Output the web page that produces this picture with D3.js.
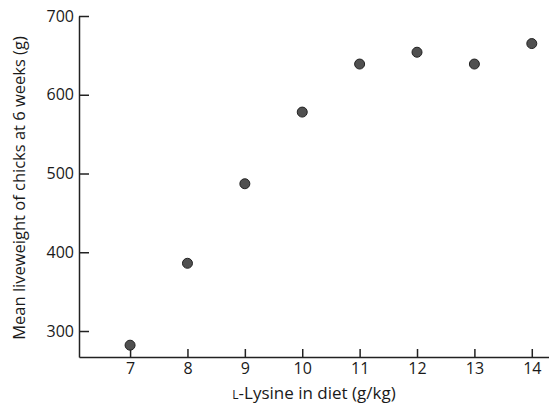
<!DOCTYPE html>
<html>
<head>
<meta charset="utf-8">
<script src="https://cdn.jsdelivr.net/npm/d3@7"></script>
<style>
  body { margin: 0; background: #fff; }
  svg { display: block; }
  .axis text { font-family: "Open Sans", sans-serif; font-size: 16px; fill: #1a1a1a; }
  .axis path, .axis line { stroke: #222; stroke-width: 1.5; }
  .title { font-family: "Open Sans", sans-serif; font-size: 16.5px; fill: #1a1a1a; }
</style>
</head>
<body>
<script>
// data
var lysine = [7, 8, 9, 10, 11, 12, 13, 14];
var weight = [282, 386, 487, 578, 639, 654, 639, 665];
var xTicks = [7, 8, 9, 10, 11, 12, 13, 14];
var yTicks = [300, 400, 500, 600, 700];

var width = 549, height = 407;

var svg = d3.select("body").append("svg")
    .attr("width", width)
    .attr("height", height);

var x = d3.scaleLinear()
    .domain([6.11, 14.3])
    .range([79, 549]);

var y = d3.scaleLinear()
    .domain([267, 700])
    .range([357, 16]);

var yAxis = d3.axisLeft(y)
    .tickValues(yTicks)
    .tickSizeInner(-10)
    .tickSizeOuter(0)
    .tickPadding(5);

svg.append("g")
    .attr("class", "axis")
    .attr("transform", "translate(" + x.range()[0] + ",0)")
    .call(yAxis);

var xAxis = d3.axisBottom(x)
    .tickValues(xTicks)
    .tickSizeInner(-8)
    .tickSizeOuter(0)
    .tickPadding(6);

svg.append("g")
    .attr("class", "axis")
    .attr("transform", "translate(0," + y.range()[0] + ")")
    .call(xAxis);

// points
svg.selectAll("circle.pt")
    .data(lysine)
    .enter()
    .append("circle")
    .attr("class", "pt")
    .attr("cx", d => x(d))
    .attr("cy", (d, i) => y(weight[i]))
    .attr("r", 5)
    .style("fill", "#505050")
    .style("stroke", "#222")
    .style("stroke-width", 1);

// axis titles
var xt = svg.append("text")
    .attr("class", "title")
    .attr("x", 314)
    .attr("y", 399)
    .style("font-size", "17px")
    .style("text-anchor", "middle");
xt.append("tspan").style("font-size", "12px").text("L");
xt.append("tspan").text("-Lysine in diet (g/kg)");

svg.append("text")
    .attr("class", "title")
    .attr("transform", "translate(25,188) rotate(-90)")
    .style("text-anchor", "middle")
    .text("Mean liveweight of chicks at 6 weeks (g)");
</script>
</body>
</html>
